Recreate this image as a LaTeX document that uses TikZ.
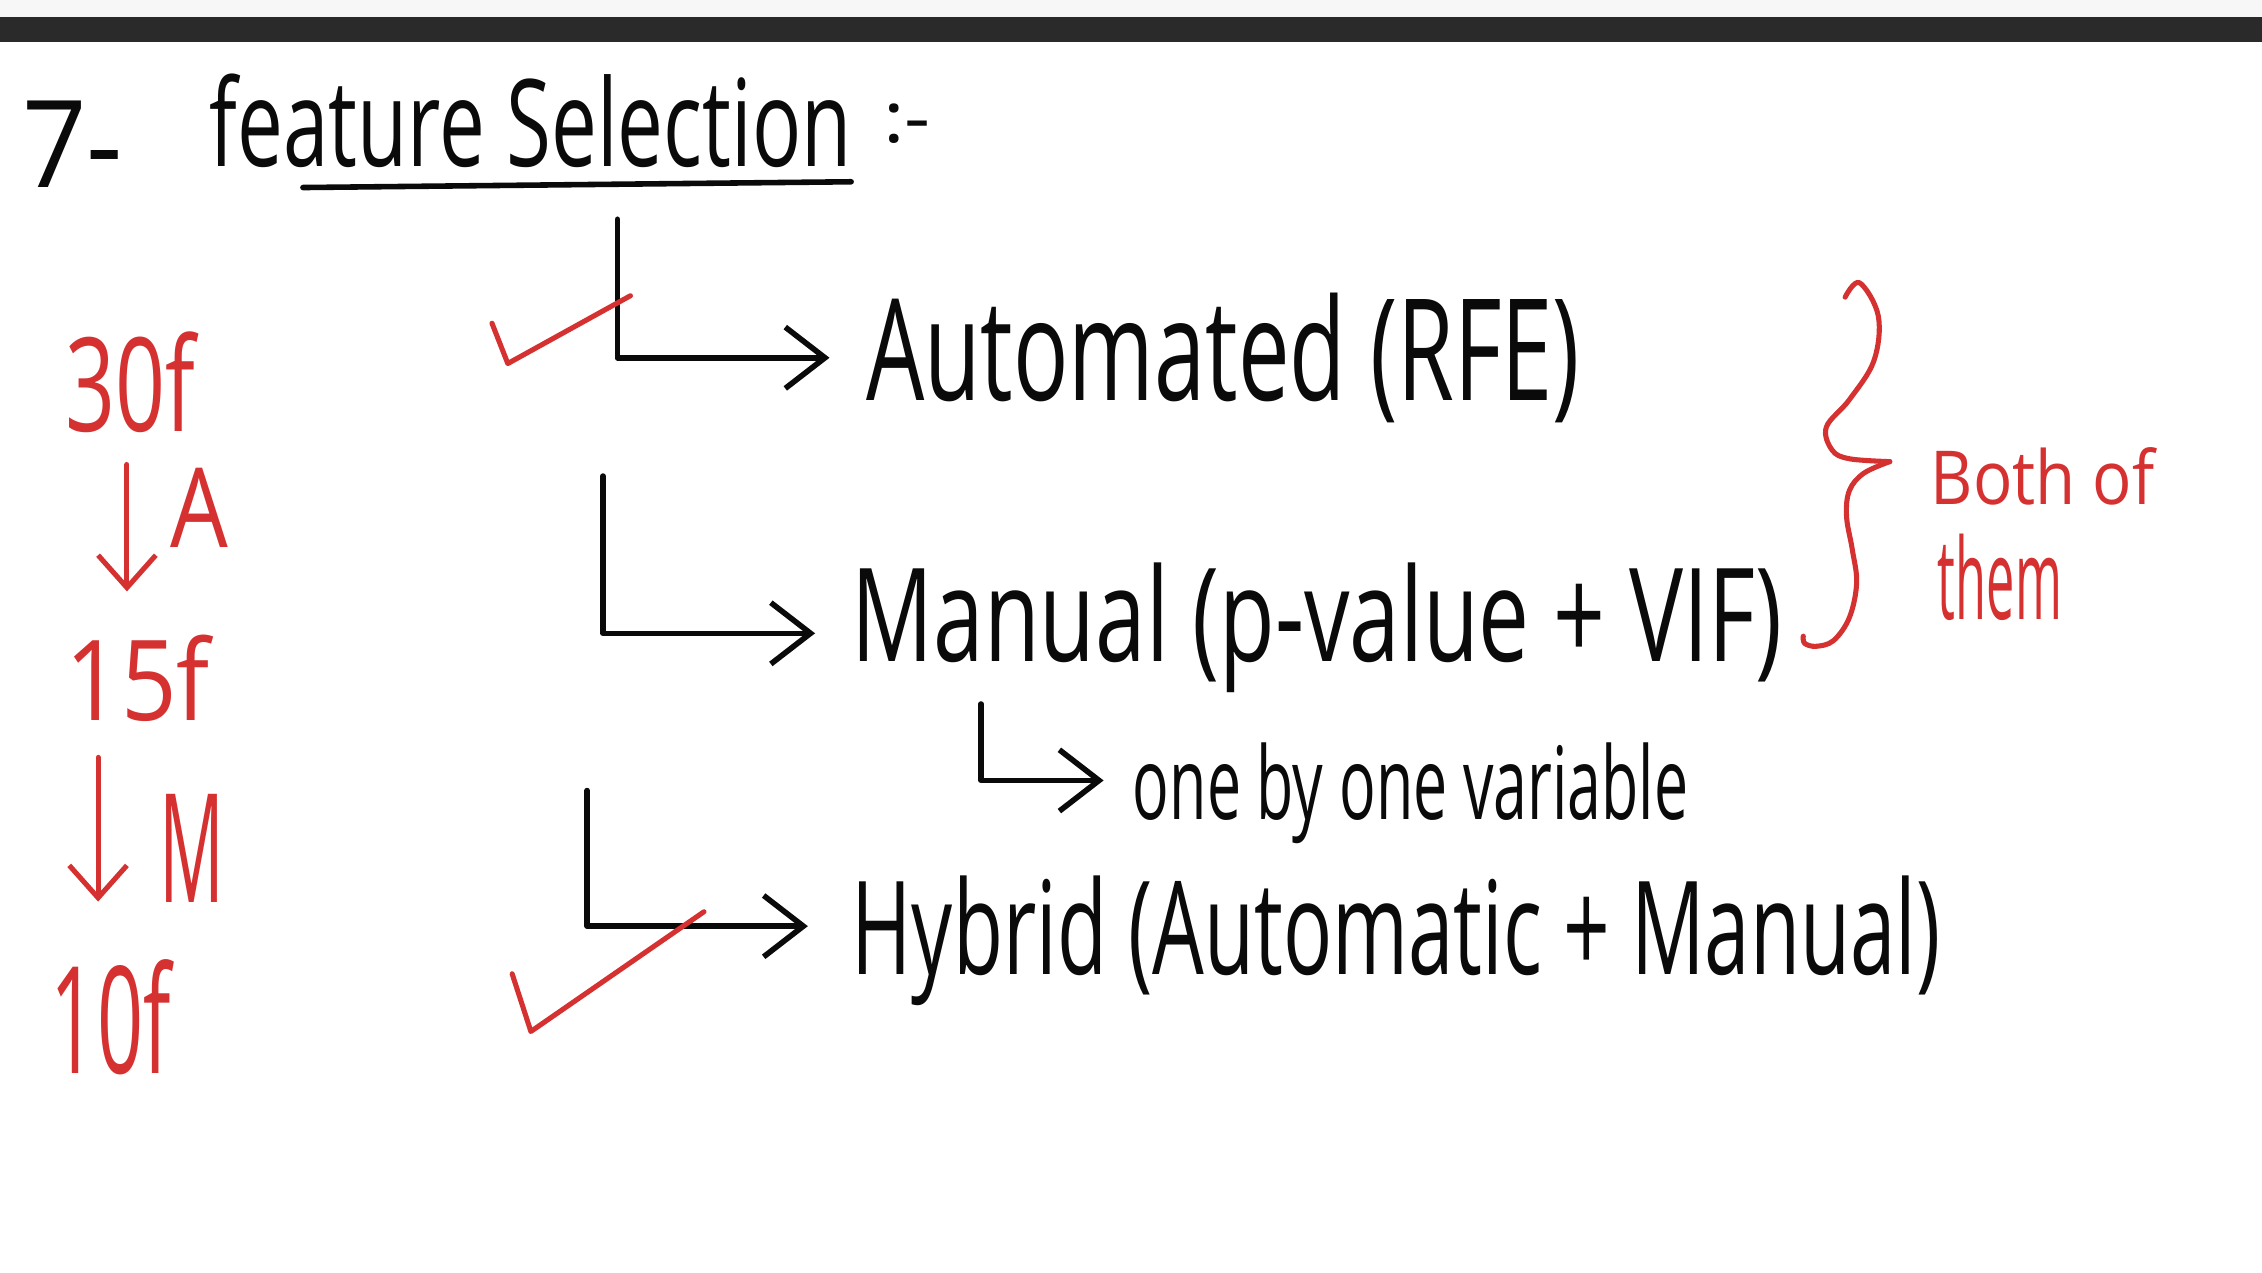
\documentclass[tikz,border=0pt]{standalone}
\usepackage{fontspec}
\setmainfont{Open Sans}
\usetikzlibrary{arrows.meta}
\definecolor{ink}{HTML}{0A0A0A}
\definecolor{redink}{HTML}{D63131}
\definecolor{barcol}{HTML}{2A2A2A}
\newcommand\fitbox[3]{\resizebox*{#1}{#2}{#3}}
\begin{document}
\begin{tikzpicture}[x=0.02cm,y=-0.02cm,
  pen/.style={line width=2.2pt, draw=ink, line cap=round, line join=round},
  redpen/.style={line width=2pt, draw=redink, line cap=round, line join=round},
  arr/.style={pen, -{Straight Barb[length=0.55cm,width=0.85cm,line width=2.2pt]}},
  rarr/.style={redpen, -{Straight Barb[length=0.45cm,width=0.8cm,line width=2pt]}},
  txt/.style={inner sep=0pt, anchor=west, text=ink},
  rtxt/.style={inner sep=0pt, anchor=west, text=redink}]
\useasboundingbox (0,0) rectangle (1568,882);
\fill[white] (0,0) rectangle (1568,882);
\fill[gray!6] (0,0) rectangle (1568,12);
\fill[barcol] (0,12) rectangle (1568,29);

% title
\node[txt] (seven) at (15,100) {\fitbox{1.4cm}{1.2cm}{7-}};
\node[txt] (title) at (145,84) {\fitbox{8.9cm}{1.3cm}{feature Selection}};
\node[txt] (colon) at (612,86) {\fitbox{0.66cm}{0.55cm}{:-}};
\coordinate (ul1) at (210,130);
\coordinate (ul2) at (590,126);
\draw[pen] (ul1) -- (ul2);

% branches
\node[txt] (auto) at (600,248) {\fitbox{9.9cm}{1.8cm}{Automated (RFE)}};
\node[txt] (manual) at (590,435) {\fitbox{12.9cm}{1.8cm}{Manual (p-value + VIF)}};
\node[txt] (obo) at (785,550) {\fitbox{7.7cm}{1.4cm}{one by one variable}};
\node[txt] (hybrid) at (590,652) {\fitbox{15.1cm}{1.8cm}{Hybrid (Automatic + Manual)}};

\coordinate (t1) at (428,152);
\coordinate (t2) at (418,330);
\coordinate (t3) at (407,548);
\coordinate (t4) at (680,488);
\draw[arr] (t1) |- ([xshift=-0.5cm]auto.west);
\draw[arr] (t2) |- ([xshift=-0.5cm,yshift=-0.08cm]manual.west);
\draw[arr] (t4) |- ([xshift=-0.4cm,yshift=0.18cm]obo.west);
\draw[arr] (t3) |- ([xshift=-0.6cm,yshift=0.2cm]hybrid.west);

% red checks
\draw[redpen] (341,224) -- (352,252) -- (437,205);
\draw[redpen] (355,675) -- (368,715) -- (488,632);

% left red column
\node[rtxt] (n30) at (45,265) {\fitbox{1.8cm}{1.4cm}{30f}};
\node[rtxt] (lA) at (118,352) {\fitbox{0.8cm}{1.1cm}{A}};
\node[rtxt] (n15) at (45,470) {\fitbox{2.0cm}{1.2cm}{15f}};
\node[rtxt] (lM) at (110,588) {\fitbox{0.9cm}{1.5cm}{M}};
\node[rtxt] (n10) at (35,705) {\fitbox{1.66cm}{1.6cm}{10f}};
\coordinate (a1s) at (88,322);
\coordinate (a1e) at (88,410);
\coordinate (a2s) at (68,525);
\coordinate (a2e) at (68,625);
\draw[rarr] (a1s) -- (a1e);
\draw[rarr] (a2s) -- (a2e);

% brace
\draw[redpen] plot[smooth, tension=0.6] coordinates {(1279,206) (1289,196) (1302,219) (1299,250) (1282,277) (1266,296) (1270,312) (1282,318) (1310,320)};
\draw[redpen] plot[smooth, tension=0.6] coordinates {(1310,320) (1292,328) (1282,340) (1280,358) (1284,381) (1287,404) (1282,428) (1271,444) (1259,448) (1251,446) (1250,441)};
\node[rtxt] (both) at (1338,330) {\fitbox{3.1cm}{0.8cm}{Both of}};
\node[rtxt] (them) at (1343,400) {\fitbox{1.72cm}{1.2cm}{them}};
\end{tikzpicture}
\end{document}
